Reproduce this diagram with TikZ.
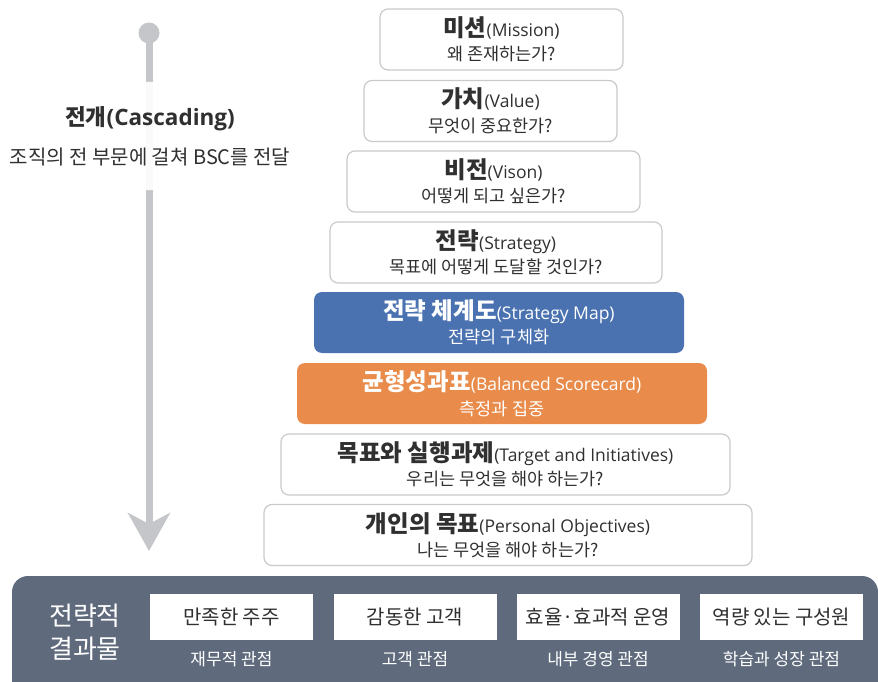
\documentclass[tikz,border=0pt]{standalone}
\usepackage{fontspec}
\setmainfont{Noto Sans CJK KR}
\newfontfamily\latinfont{Open Sans}
\usetikzlibrary{arrows.meta}
\definecolor{mapblue}{HTML}{4A72B0}
\definecolor{bscorange}{HTML}{E98C4B}
\definecolor{panelgray}{HTML}{5F6B7D}
\definecolor{arrowgray}{HTML}{C4C6CA}
\definecolor{boxline}{HTML}{CACACA}
\definecolor{textgray}{HTML}{303030}
\newcommand{\lvltext}[3]{{\fontsize{23.5}{25}\selectfont\bfseries #1}{\latinfont\fontsize{17.5}{25}\selectfont(#2)}\\{#3}}
\tikzset{
  level/.style={draw=boxline, line width=1.2pt, rounded corners=8pt, fill=white,
    text=textgray, align=center, inner sep=0pt, minimum height=61pt,
    font=\fontsize{17.5}{24.5}\selectfont},
  levelmap/.style={level, draw=none, fill=mapblue, text=white},
  levelbsc/.style={level, draw=none, fill=bscorange, text=white},
  outcome/.style={fill=white, text=textgray, minimum width=163pt, minimum height=46pt,
    inner sep=0pt, font=\fontsize{20}{22}\selectfont},
  perspective/.style={text=white, font=\fontsize{17}{19}\selectfont}
}
\begin{document}
\begin{tikzpicture}[x=1pt,y=-1pt]
\useasboundingbox (0,0) rectangle (878,682);
% cascading arrow
\coordinate (top) at (149,33);
\coordinate (tip) at (149,551);
\draw[arrowgray, line width=7pt, -{Stealth[length=38pt,width=42pt,inset=11pt]}] (top) -- (tip);
\fill[arrowgray] (top) circle (10.5);
\node[fill=white, fill opacity=0.93, text opacity=1, rounded corners=12pt, minimum width=256pt,
  minimum height=108pt, align=center, text=textgray, font=\fontsize{20}{39}\selectfont] (cascade) at (150,136)
  {{\fontsize{22.5}{24}\selectfont\bfseries 전개{\latinfont(Cascading)}}\\조직의 전 부문에 걸쳐 BSC를 전달};
% pyramid of levels
\node[level, minimum width=243pt] (mission) at (501.5,39.5) {\lvltext{미션}{Mission}{왜 존재하는가?}};
\node[level, minimum width=253pt] (value) at (490.5,111) {\lvltext{가치}{Value}{무엇이 중요한가?}};
\node[level, minimum width=293pt] (vision) at (493.5,181.5) {\lvltext{비전}{Vison}{어떻게 되고 싶은가?}};
\node[level, minimum width=332pt] (strategy) at (496,252.5) {\lvltext{전략}{Strategy}{목표에 어떻게 도달할 것인가?}};
\node[levelmap, minimum width=370pt] (map) at (499,322.5) {\lvltext{전략 체계도}{Strategy Map}{전략의 구체화}};
\node[levelbsc, minimum width=410pt] (bsc) at (502,393.5) {\lvltext{균형성과표}{Balanced Scorecard}{측정과 집중}};
\node[level, minimum width=449pt] (target) at (505.5,464.5) {\lvltext{목표와 실행과제}{Target and Initiatives}{우리는 무엇을 해야 하는가?}};
\node[level, minimum width=488pt] (personal) at (508,535) {\lvltext{개인의 목표}{Personal Objectives}{나는 무엇을 해야 하는가?}};
% strategic outcomes
\fill[panelgray, rounded corners=16pt] (12,576) rectangle (878,700);
\node[text=white, align=center, font=\fontsize{26}{33}\selectfont] (outcomes) at (85,632) {전략적\\결과물};
\foreach \x/\name/\goal/\view in {231.5/share/만족한 주주/재무적 관점,
  415/cust/감동한 고객/고객 관점,
  598/proc/효율·효과적 운영/내부 경영 관점,
  781.5/staff/역량 있는 구성원/학습과 성장 관점}{
  \node[outcome] (\name) at (\x,617) {\goal};
  \node[perspective] (\name-view) at (\x,659) {\view};
}
\end{tikzpicture}
\end{document}
